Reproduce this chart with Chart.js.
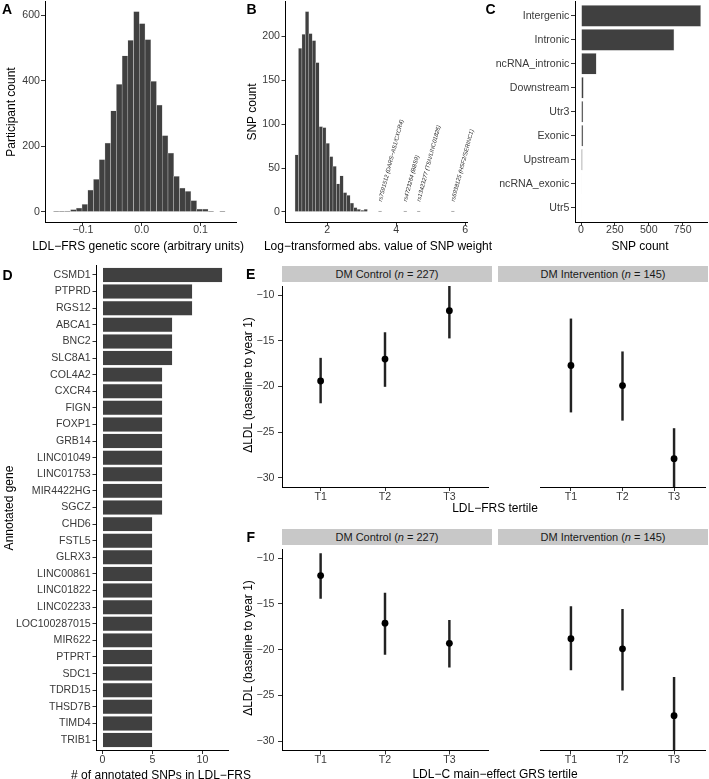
<!DOCTYPE html>
<html>
<head>
<meta charset="utf-8">
<script src="https://cdn.jsdelivr.net/npm/chart.js@4.4.1/dist/chart.umd.min.js"></script>
<style>
  html, body { margin: 0; padding: 0; background: #fff; overflow: hidden; }
  body { width: 709px; height: 779px; position: relative; font-family: "Liberation Sans", Arial, Helvetica, sans-serif; }
  canvas { position: absolute; }
  .tag { position: absolute; font-weight: bold; font-size: 14px; line-height: 14px; color: #000; }
  .strip { position: absolute; background: #c8c8c8; color: #1a1a1a; font-size: 11px; text-align: center; }
  .xtitle { position: absolute; font-size: 12px; line-height: 14px; color: #000; white-space: nowrap; transform: translateX(-50%); }
  .ytitle { position: absolute; font-size: 12px; line-height: 14px; color: #000; white-space: nowrap; transform: translate(-50%, -50%) rotate(-90deg); }
</style>
</head>
<body>
<canvas id="chartA" width="250" height="255" style="left:0px;top:0px"></canvas>
<canvas id="chartB" width="250" height="255" style="left:240px;top:0px"></canvas>
<canvas id="chartC" width="240" height="255" style="left:469px;top:0px"></canvas>
<canvas id="chartD" width="260" height="530" style="left:0px;top:255px"></canvas>
<canvas id="chartE1" width="252" height="225" style="left:240px;top:282px"></canvas>
<canvas id="chartE2" width="211" height="225" style="left:498px;top:282px"></canvas>
<canvas id="chartF1" width="252" height="225" style="left:240px;top:545px"></canvas>
<canvas id="chartF2" width="211" height="225" style="left:498px;top:545px"></canvas>

<div class="tag" style="left:2px;top:1.5px">A</div>
<div class="tag" style="left:246.5px;top:1.5px">B</div>
<div class="tag" style="left:485.5px;top:2px">C</div>
<div class="tag" style="left:2.5px;top:268px">D</div>
<div class="tag" style="left:246px;top:266.5px">E</div>
<div class="tag" style="left:246.5px;top:530px">F</div>

<div class="strip" style="left:282px;top:265.7px;width:210px;height:16px;line-height:16px">DM Control (<i>n</i> = 227)</div>
<div class="strip" style="left:498px;top:265.7px;width:210px;height:16px;line-height:16px">DM Intervention (<i>n</i> = 145)</div>
<div class="strip" style="left:282px;top:529.3px;width:210px;height:15.7px;line-height:16px">DM Control (<i>n</i> = 227)</div>
<div class="strip" style="left:498px;top:529.3px;width:210px;height:15.7px;line-height:16px">DM Intervention (<i>n</i> = 145)</div>

<div class="xtitle" style="left:138px;top:239px">LDL−FRS genetic score (arbitrary units)</div>
<div class="xtitle" style="left:378px;top:239px">Log−transformed abs. value of SNP weight</div>
<div class="xtitle" style="left:640px;top:239px">SNP count</div>
<div class="xtitle" style="left:161px;top:768px"># of annotated SNPs in LDL−FRS</div>
<div class="xtitle" style="left:495px;top:501px">LDL−FRS tertile</div>
<div class="xtitle" style="left:495px;top:767px">LDL−C main−effect GRS tertile</div>

<div class="ytitle" style="left:10.5px;top:112px">Participant count</div>
<div class="ytitle" style="left:251.7px;top:112px">SNP count</div>
<div class="ytitle" style="left:8.5px;top:507.5px">Annotated gene</div>
<div class="ytitle" style="left:248.3px;top:384.5px">ΔLDL (baseline to year 1)</div>
<div class="ytitle" style="left:248.3px;top:647.7px">ΔLDL (baseline to year 1)</div>

<script>
// A: histogram of LDL-FRS genetic score
const aBinCenters = [-0.1454, -0.1357, -0.1259, -0.1162, -0.1064, -0.0967, -0.0869, -0.0772, -0.0674, -0.0577,
                     -0.0479, -0.0382, -0.0284, -0.0187, -0.0089, 0.0008, 0.0106, 0.0203, 0.0301, 0.0398,
                     0.0496, 0.0593, 0.0691, 0.0788, 0.0886, 0.0983, 0.1081, 0.1178, 0.1276, 0.1373];
const aCounts = [1, 1, 3, 7, 12, 23, 67, 100, 160, 210,
                 309, 390, 477, 524, 612, 575, 526, 399, 326, 233,
                 180, 109, 73, 63, 35, 9, 9, 1, 0, 1];
const aXTicks = [-0.1, 0, 0.1];
const aYTicks = [0, 200, 400, 600];

// B: histogram of log-transformed SNP weights
const bBinCenters = [1.114, 1.214, 1.314, 1.414, 1.514, 1.614, 1.714, 1.814, 1.914, 2.014, 2.114,
                     2.214, 2.314, 2.414, 2.514, 2.614, 2.714, 2.814, 2.914, 3.014, 3.114];
const bCounts = [65, 186, 202, 228, 203, 195, 170, 97, 96, 78, 63,
                 52, 32, 41, 22, 19, 10, 5, 3, 2, 3];
const bOutlierX = [3.53, 4.26, 4.65, 5.64];
const bOutlierCounts = [1, 1, 1, 1];
const bOutlierLabels = ['rs7591512 (DARS−AS1/CXCR4)', 'rs4723264 (BBS9)', 'rs13423277 (TSN/LINC01826)', 'rs6938125 (HSF2/SERINC1)'];
const bLabelY = 12;
const bXTicks = [2, 4, 6];
const bYTicks = [0, 50, 100, 150, 200];

// C: SNP annotation classes
const cCategories = ['Intergenic', 'Intronic', 'ncRNA_intronic', 'Downstream', 'Utr3', 'Exonic', 'Upstream', 'ncRNA_exonic', 'Utr5'];
const cCounts = [885, 688, 115, 20, 17, 17, 12, 5, 3];
const cXTicks = [0, 250, 500, 750];

// D: annotated genes
const dGenes = ['CSMD1', 'PTPRD', 'RGS12', 'ABCA1', 'BNC2', 'SLC8A1', 'COL4A2', 'CXCR4', 'FIGN', 'FOXP1',
                'GRB14', 'LINC01049', 'LINC01753', 'MIR4422HG', 'SGCZ', 'CHD6', 'FSTL5', 'GLRX3', 'LINC00861',
                'LINC01822', 'LINC02233', 'LOC100287015', 'MIR622', 'PTPRT', 'SDC1', 'TDRD15', 'THSD7B', 'TIMD4', 'TRIB1'];
const dCounts = [12, 9, 9, 7, 7, 7, 6, 6, 6, 6,
                 6, 6, 6, 6, 6, 5, 5, 5, 5,
                 5, 5, 5, 5, 5, 5, 5, 5, 5, 5];
const dXTicks = [0, 5, 10];

// E / F: change in LDL by tertile
const tertiles = ['T1', 'T2', 'T3'];
const ldlYTicks = [-30, -25, -20, -15, -10];
const eControlMean = [-19.4, -17.0, -11.7];
const eControlLow = [-21.8, -20.0, -14.7];
const eControlHigh = [-16.9, -14.1, -8.8];
const eInterventionMean = [-17.7, -19.9, -27.9];
const eInterventionLow = [-22.8, -23.7, -31.5];
const eInterventionHigh = [-12.6, -16.2, -24.6];
const fControlMean = [-11.9, -17.1, -19.3];
const fControlLow = [-14.4, -20.5, -21.9];
const fControlHigh = [-9.5, -13.8, -16.8];
const fInterventionMean = [-18.8, -19.9, -27.2];
const fInterventionLow = [-22.2, -24.4, -31.5];
const fInterventionHigh = [-15.3, -15.6, -23.0];

const FONT = '"Liberation Sans", Arial, Helvetica, sans-serif';
const BAR = '#404040';
const BAR_EDGE = '#cfcfcf';

Chart.defaults.font.family = FONT;
Chart.defaults.animation = false;
Chart.defaults.events = [];
Chart.defaults.plugins.legend.display = false;
Chart.defaults.plugins.tooltip.enabled = false;

const minus = s => String(s).replace('-', '−');

// fixed axis box so the plot area lands where the reference has it
function fitTo(size) {
    return s => {
        if (s.isHorizontal()) { s.height = size; s.paddingLeft = 0; s.paddingRight = 0; }
        else { s.width = size; s.paddingTop = 0; s.paddingBottom = 0; }
    };
}

function axis(o) {
    return {
        type: 'linear', min: o.min, max: o.max, bounds: 'data', offset: false,
        reverse: !!o.reverse, display: o.display === undefined ? true : o.display,
        afterBuildTicks: s => { s.ticks = o.ticks.map(v => ({ value: v })); },
        afterFit: fitTo(o.size),
        grid: { display: true, drawOnChartArea: false, drawTicks: true, tickLength: 4, color: '#333', lineWidth: 1, offset: false },
        border: { display: true, color: '#000', width: 1 },
        ticks: { padding: o.tickPad, color: '#3a3a3a', font: { size: 10.6, lineHeight: 1 }, callback: o.label,
                 autoSkip: false, maxRotation: 0, minRotation: 0 }
    };
}

// rotated SNP labels in panel B
const snpLabels = {
    id: 'snpLabels',
    afterDatasetsDraw(chart) {
        const { ctx, scales: { x, y } } = chart;
        ctx.save();
        ctx.font = 'italic 5.8px ' + FONT;
        ctx.fillStyle = '#262626';
        ctx.textAlign = 'left';
        ctx.textBaseline = 'middle';
        bOutlierLabels.forEach((txt, i) => {
            ctx.save();
            ctx.translate(x.getPixelForValue(bOutlierX[i]), y.getPixelForValue(bLabelY));
            ctx.rotate(-75 * Math.PI / 180);
            ctx.fillText(txt, 0, 0);
            ctx.restore();
        });
        ctx.restore();
    }
};

// Panel A
new Chart(document.getElementById('chartA'), {
    type: 'bar',
    data: { datasets: [{
        data: aBinCenters.map((x, i) => ({ x, y: aCounts[i] })),
        backgroundColor: BAR, borderColor: BAR_EDGE, borderWidth: 0.5,
        barPercentage: 1, categoryPercentage: 1
    }] },
    options: {
        responsive: false,
        layout: { padding: { top: 1.5, right: 14, bottom: 0, left: 0 } },
        scales: {
            x: axis({ min: -0.1645, max: 0.1604, ticks: aXTicks, label: v => minus(v.toFixed(1)), size: 33, tickPad: -1 }),
            y: axis({ min: -30.6, max: 642.6, ticks: aYTicks, label: v => String(v), size: 45, tickPad: 1 })
        }
    }
});

// Panel B
new Chart(document.getElementById('chartB'), {
    type: 'bar',
    data: { datasets: [{
        data: bBinCenters.map((x, i) => ({ x, y: bCounts[i] }))
              .concat(bOutlierX.map((x, i) => ({ x, y: bOutlierCounts[i] }))),
        backgroundColor: BAR, borderColor: BAR_EDGE, borderWidth: 0.5,
        barPercentage: 1, categoryPercentage: 1
    }] },
    options: {
        responsive: false,
        layout: { padding: { top: 1.5, right: 23, bottom: 0, left: 0 } },
        scales: {
            x: axis({ min: 0.788, max: 6.05, ticks: bXTicks, label: v => String(v), size: 33, tickPad: -1 }),
            y: axis({ min: -11.4, max: 239.4, ticks: bYTicks, label: v => String(v), size: 45.5, tickPad: 1.5 })
        }
    },
    plugins: [snpLabels]
});

// Panel C
new Chart(document.getElementById('chartC'), {
    type: 'bar',
    data: { datasets: [{
        data: cCategories.map((c, i) => ({ y: i + 1, x: cCounts[i] })),
        backgroundColor: BAR, borderColor: BAR_EDGE, borderWidth: 0.5,
        barPercentage: 0.9, categoryPercentage: 1
    }] },
    options: {
        responsive: false,
        indexAxis: 'y',
        layout: { padding: { top: 1.5, right: 2, bottom: 0, left: 0 } },
        scales: {
            x: axis({ min: -44.25, max: 929.25, ticks: cXTicks, label: v => String(v), size: 33, tickPad: -1 }),
            y: axis({ min: 0.4, max: 9.6, reverse: true, ticks: cCategories.map((c, i) => i + 1),
                      label: v => cCategories[v - 1], size: 106, tickPad: 1.7 })
        }
    }
});

// Panel D
new Chart(document.getElementById('chartD'), {
    type: 'bar',
    data: { datasets: [{
        data: dGenes.map((g, i) => ({ y: i + 1, x: dCounts[i] })),
        backgroundColor: BAR, borderColor: BAR_EDGE, borderWidth: 0.5,
        barPercentage: 0.9, categoryPercentage: 1
    }] },
    options: {
        responsive: false,
        indexAxis: 'y',
        layout: { padding: { top: 10, right: 31.5, bottom: 0, left: 0 } },
        scales: {
            x: axis({ min: -0.6, max: 12.6, ticks: dXTicks, label: v => String(v), size: 35, tickPad: 0.5 }),
            y: axis({ min: 0.4, max: 29.6, reverse: true, ticks: dGenes.map((g, i) => i + 1),
                      label: v => dGenes[v - 1], size: 96.5, tickPad: 1.8 })
        }
    }
});

// Panels E and F
function ldlPanel(id, mean, low, high, withY, xSize) {
    return new Chart(document.getElementById(id), {
        type: 'bar',
        data: { datasets: [
            { type: 'scatter', data: mean.map((m, i) => ({ x: i + 1, y: m })),
              pointRadius: 3.4, pointBackgroundColor: '#000', pointBorderWidth: 0 },
            { type: 'bar', data: mean.map((m, i) => ({ x: i + 1, y: [low[i], high[i]] })),
              backgroundColor: '#222', barThickness: 1.8, borderWidth: 0 }
        ] },
        options: {
            responsive: false,
            layout: { padding: { top: 0, right: withY ? 0 : 1, bottom: 0, left: 0 } },
            scales: {
                x: axis({ min: 0.4, max: 3.6, ticks: [1, 2, 3], label: v => tertiles[v - 1], size: xSize, tickPad: 0.4 }),
                y: axis({ min: -31, max: -9, ticks: ldlYTicks, label: v => minus(v), size: 42, tickPad: 3.5, display: withY })
            }
        }
    });
}

ldlPanel('chartE1', eControlMean, eControlLow, eControlHigh, true, 20);
ldlPanel('chartE2', eInterventionMean, eInterventionLow, eInterventionHigh, false, 20);
ldlPanel('chartF1', fControlMean, fControlLow, fControlHigh, true, 19.5);
ldlPanel('chartF2', fInterventionMean, fInterventionLow, fInterventionHigh, false, 19.5);
</script>
</body>
</html>
